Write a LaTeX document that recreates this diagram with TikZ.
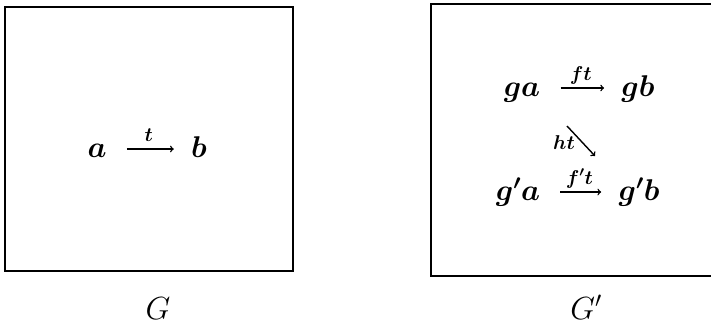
\RequirePackage{fix-cm}
\documentclass[tikz,border=0pt]{standalone}
\usepackage{amsmath}
\usetikzlibrary{positioning}

\begin{document}
\begin{tikzpicture}[x=1pt, y=-1pt, thick,
  box/.style={line width=2pt},
  obj/.style={font=\fontsize{30}{32}\selectfont\boldmath, anchor=base,
    inner sep=0pt, text height=16pt, text depth=0pt},
  lbl/.style={font=\fontsize{20}{22}\selectfont\boldmath, anchor=base, inner sep=0pt},
  graphlbl/.style={font=\fontsize{32}{34}\selectfont, anchor=base, inner sep=0pt},
  map/.style={->, line width=1.4pt, shorten <=20pt, shorten >=17pt}]
  \useasboundingbox (0,0) rectangle (711,325);
  \draw[box] (5,6.5) rectangle (293,271);
  \draw[box] (431,3.5) rectangle (713,276);
  \node[obj] (a) at (97,157) {$a$};
  \node[obj] (b) at (199,157) {$b$};
  \draw[map] (a) -- node[lbl, yshift=8pt] {$t$} (b);
  \node[obj] (ga)  at (522,96)  {$ga$};
  \node[obj] (gb)  at (638,96)  {$gb$};
  \node[obj] (gpa) at (518,200) {$g'a$};
  \node[obj] (gpb) at (639,200) {$g'b$};
  \draw[map] (ga) -- node[lbl, yshift=8pt] {$ft$} (gb);
  \draw[map] (gpa) -- node[lbl, yshift=8pt] {$f't$} (gpb);
  \coordinate (hs) at (567,126);
  \coordinate (he) at (595,156);
  \draw[->, line width=1.4pt] (hs) -- (he);
  \node[lbl] (ht) at (564,149) {$ht$};
  \node[graphlbl] (G)  at (158,319) {$G$};
  \node[graphlbl] (Gp) at (586,319) {$G'$};
\end{tikzpicture}
\end{document}
